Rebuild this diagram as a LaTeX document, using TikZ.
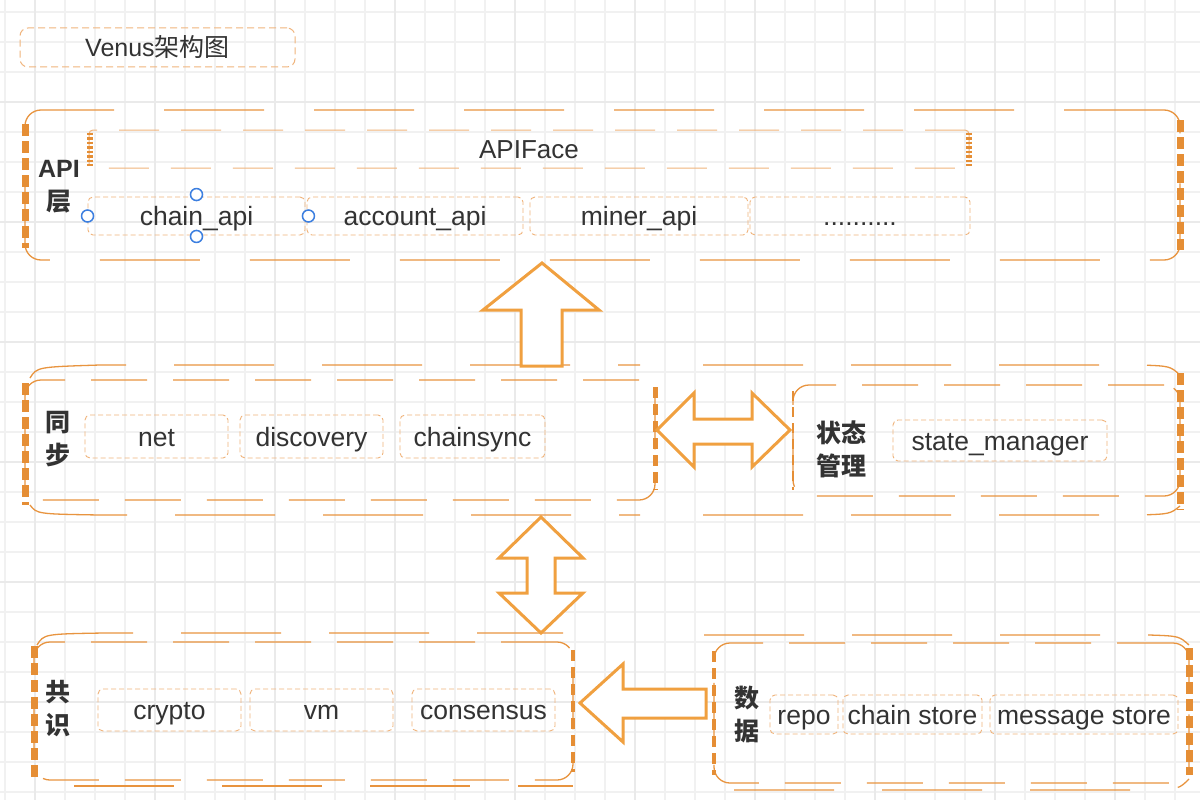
\documentclass[tikz,border=0pt]{standalone}
\usepackage{fontspec}
\setmainfont{Liberation Sans}
\newfontfamily\cjk{Noto Sans CJK SC}
\usetikzlibrary{calc}
\definecolor{gridminor}{HTML}{F1F1F1}
\definecolor{gridmajor}{HTML}{EAEAEA}
\definecolor{boxor}{HTML}{E8943F}
\definecolor{sideor}{HTML}{E58E35}
\definecolor{subor}{HTML}{F0B47C}
\definecolor{arrowor}{HTML}{F0A040}
\definecolor{txt}{HTML}{333333}
\definecolor{hblue}{HTML}{3C7FE0}
\tikzset{
  bigbox/.style={draw=boxor, line width=1.3pt, dash pattern=on 56pt off 26pt, rounded corners=16pt, inner sep=0pt, outer sep=0pt},
  outerline/.style={draw=boxor, line width=1.3pt, dash pattern=on 100pt off 48pt},
  thickside/.style={draw=sideor, line width=7pt, dash pattern=on 12pt off 5pt},
  medside/.style={draw=sideor, line width=3.5pt, dash pattern=on 11pt off 6pt},
  thinside/.style={draw=sideor, line width=2.5pt, dash pattern=on 10pt off 6pt},
  denseside/.style={draw=sideor, line width=6pt, dash pattern=on 2.5pt off 2pt},
  subbox/.style={draw=subor, line width=0.9pt, dash pattern=on 5pt off 3pt, rounded corners=5pt, inner sep=0pt, font=\fontsize{26.5}{30}\selectfont, text=txt, text height=19pt, text depth=0pt},
  facebox/.style={draw=subor, line width=1pt, dash pattern=on 40pt off 22pt, rounded corners=4pt, inner sep=0pt, font=\fontsize{26}{30}\selectfont, text=txt, text height=18.7pt, text depth=0pt},
  titlebox/.style={draw=subor, line width=1pt, dash pattern=on 7pt off 4pt, rounded corners=8pt, inner sep=0pt, font=\fontsize{25}{30}\selectfont, text=txt, text height=18pt, text depth=0pt},
  lbl/.style={font=\bfseries\fontsize{25}{33}\selectfont, text=txt, align=center, inner sep=0pt},
  blockarrow/.style={draw=arrowor, line width=3pt, fill=white, line join=miter},
  handle/.style={circle, draw=hblue, fill=white, line width=1.5pt, minimum size=12pt, inner sep=0pt},
}
\begin{document}
\begin{tikzpicture}[x=1pt, y=-1pt]
\useasboundingbox (0,0) rectangle (1200,800);
\fill[white] (0,0) rectangle (1200,800);
% grid
\foreach \x in {5,35,...,1195} \draw[gridminor, line width=1.2pt] (\x,0) -- (\x,800);
\foreach \y in {12,42,...,792} \draw[gridminor, line width=1.2pt] (0,\y) -- (1200,\y);
\foreach \x in {35,155,...,1115} \draw[gridmajor, line width=2pt] (\x,0) -- (\x,800);
\foreach \y in {102,222,...,702} \draw[gridmajor, line width=2pt] (0,\y) -- (1200,\y);

% title
\node[titlebox, minimum width=275pt, minimum height=39pt] (title) at (157.5,47.5) {Venus{\cjk 架构图}};

% API layer
\node[bigbox, dash pattern=on 100pt off 50pt, minimum width=1155pt, minimum height=150pt] (api) at (602.5,185) {};
\draw[thickside] ($(api.north west)+(0,14)$) -- ($(api.south west)+(0,-12)$);
\draw[thickside] ($(api.north east)+(0,10)$) -- ($(api.south east)+(0,-10)$);
\node[lbl] (apilbl) at (59,187) {API\\{\cjk 层}};
\node[facebox, minimum width=880pt, minimum height=38pt] (apiface) at (529,149) {APIFace};
\draw[denseside] ($(apiface.north west)+(1,3)$) -- ($(apiface.south west)+(1,-3)$);
\draw[denseside] ($(apiface.north east)+(-1,3)$) -- ($(apiface.south east)+(-1,-3)$);
\node[subbox, minimum width=217pt, minimum height=38pt] (chainapi) at (196.5,216) {chain\_api};
\node[subbox, minimum width=216pt, minimum height=38pt] (accountapi) at (415,216) {account\_api};
\node[subbox, minimum width=218pt, minimum height=38pt] (minerapi) at (639,216) {miner\_api};
\node[subbox, minimum width=220pt, minimum height=38pt] (moreapi) at (860,216) {..........};
\node[handle] (h1) at (chainapi.west) {};
\node[handle] (h2) at ($(chainapi.north)+(0,-2)$) {};
\node[handle] (h3) at ($(chainapi.south)+(0,1)$) {};
\node[handle] (h4) at ($(chainapi.east)+(3,0)$) {};

% sync
\node[bigbox, minimum width=630pt, minimum height=120pt] (sync) at (340,440) {};
\draw[outerline] ($(sync.north west)+(5,-2)$) .. controls ($(sync.north west)+(12,-13)$) .. ($(sync.north west)+(75,-15)$) -- ($(sync.north east)+(-15,-15)$);
\draw[outerline] ($(sync.south west)+(5,5)$) .. controls ($(sync.south west)+(12,14)$) .. ($(sync.south west)+(75,15)$) -- ($(sync.south east)+(-15,15)$);
\draw[thickside] ($(sync.north west)+(0,3)$) -- ($(sync.south west)+(0,5)$);
\draw[medside, line width=5pt] ($(sync.north east)+(0,7)$) -- ($(sync.south east)+(0,-10)$);
\node[lbl] (synclbl) at (58,439) {{\cjk 同}\\{\cjk 步}};
\node[subbox, minimum width=143pt, minimum height=43pt] (net) at (156.5,436.5) {net};
\node[subbox, minimum width=143pt, minimum height=43pt] (discovery) at (311.5,436.5) {discovery};
\node[subbox, minimum width=145pt, minimum height=43pt] (chainsync) at (472.5,436.5) {chainsync};

% state
\node[bigbox, minimum width=387pt, minimum height=111pt] (state) at (986.5,440.5) {};
\draw[outerline] ($(state.north west)+(-90,-20)$) -- ($(state.north east)+(-40,-20)$) .. controls ($(state.north east)+(-10,-19)$) .. ($(state.north east)+(0,-10)$);
\draw[outerline] ($(state.south west)+(-90,19)$) -- ($(state.south east)+(-40,19)$) .. controls ($(state.south east)+(-10,18)$) .. ($(state.south east)+(0,10)$);
\draw[thinside] ($(state.north west)+(0,6)$) -- ($(state.south west)+(0,-6)$);
\draw[thickside] ($(state.north east)+(0,-12)$) -- ($(state.south east)+(0,14)$);
\node[lbl] (statelbl) at (841,449) {{\cjk 状态}\\{\cjk 管理}};
\node[subbox, minimum width=214pt, minimum height=41pt] (statemgr) at (1000,440.5) {state\_manager};

% consensus
\node[bigbox, minimum width=539pt, minimum height=138pt] (cons) at (303.5,711) {};
\draw[outerline] ($(cons.north west)+(3,3)$) .. controls ($(cons.north west)+(10,-8)$) .. ($(cons.north west)+(70,-9)$) -- ($(cons.north east)+(-10,-9)$);
\draw[outerline] ($(cons.south west)+(40,6)$) -- ($(cons.south east)+(0,6)$);
\draw[thickside] ($(cons.north west)+(0,4)$) -- ($(cons.south west)+(0,-2)$);
\draw[medside] ($(cons.north east)+(0,8)$) -- ($(cons.south east)+(0,-8)$);
\node[lbl] (conslbl) at (58,709) {{\cjk 共}\\{\cjk 识}};
\node[subbox, minimum width=143pt, minimum height=42pt] (crypto) at (169.5,710) {crypto};
\node[subbox, minimum width=143pt, minimum height=42pt] (vm) at (321.5,710) {vm};
\node[subbox, minimum width=143pt, minimum height=42pt] (consensus) at (483.5,710) {consensus};

% data
\node[bigbox, minimum width=475pt, minimum height=140pt] (data) at (951.5,713) {};
\draw[outerline] ($(data.north west)+(-10,-8)$) -- ($(data.north east)+(-40,-8)$) .. controls ($(data.north east)+(-10,-7)$) .. ($(data.north east)+(0,2)$);
\draw[outerline] ($(data.south west)+(20,7)$) -- ($(data.south east)+(-40,7)$) .. controls ($(data.south east)+(-10,6)$) .. ($(data.south east)+(0,-4)$);
\draw[medside] ($(data.north west)+(0,8)$) -- ($(data.south west)+(0,-8)$);
\draw[thickside] ($(data.north east)+(0,5)$) -- ($(data.south east)+(0,-8)$);
\node[lbl] (datalbl) at (747,715) {{\cjk 数}\\{\cjk 据}};
\node[subbox, minimum width=68pt, minimum height=39pt] (repo) at (804,714.5) {repo};
\node[subbox, minimum width=139pt, minimum height=39pt] (chainstore) at (912.5,714.5) {chain store};
\node[subbox, minimum width=188pt, minimum height=39pt] (msgstore) at (1084,714.5) {message store};

% block arrows
\draw[blockarrow] (542,263) -- (599,310) -- (562,310) -- (562,366) -- (521,366) -- (521,310) -- (483,310) -- cycle;
\draw[blockarrow] (657,430) -- (694,393) -- (694,419) -- (752,419) -- (752,393) -- (790,430) -- (752,467) -- (752,444) -- (694,444) -- (694,467) -- cycle;
\draw[blockarrow] (541,517) -- (583,558) -- (555,558) -- (555,593) -- (583,593) -- (541,633) -- (499,593) -- (527,593) -- (527,558) -- (499,558) -- cycle;
\draw[blockarrow] (580,703) -- (623,664) -- (623,689) -- (706,689) -- (706,718) -- (623,718) -- (623,742) -- cycle;
\end{tikzpicture}
\end{document}
